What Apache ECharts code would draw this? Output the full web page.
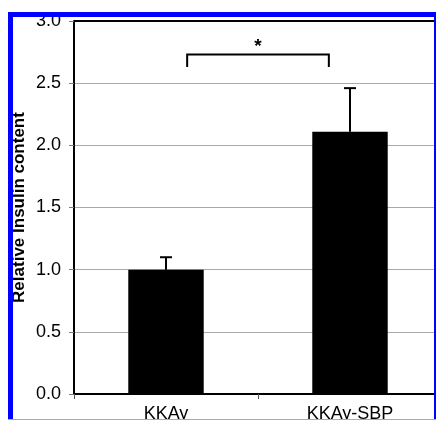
<!DOCTYPE html>
<html>
<head>
<meta charset="utf-8">
<script src="https://cdn.jsdelivr.net/npm/echarts@6/dist/echarts.min.js"></script>
<style>
html,body{margin:0;padding:0;background:#fff;}
#chart{width:436px;height:422px;}
</style>
</head>
<body>
<div id="chart"></div>
<script>
// ---- data ----
const categories = ['KKAy', 'KKAy-SBP'];
const means = [1.0, 2.11];
const errUpper = [1.10, 2.46];
const yTicks = { min: 0, max: 3, interval: 0.5 };
const yAxisTitle = 'Relative Insulin content';
// significance bracket: [fromCategory, toCategory, topValue, legBottomValue, label]
const bracket = [0, 1, 2.73, 2.63, '*'];

const chart = echarts.init(document.getElementById('chart'), null, { renderer: 'canvas' });

const FONT = 'Liberation Sans, Arial, sans-serif';

chart.setOption({
  animation: false,
  backgroundColor: '#fff',
  grid: { left: 74, width: 368, top: 21, height: 373, show: false,
          containLabel: false, outerBoundsMode: 'none' },
  xAxis: {
    type: 'category',
    data: categories,
    boundaryGap: true,
    axisLine: { show: true, lineStyle: { color: '#000', width: 2 } },
    axisTick: { show: true, alignWithLabel: false, length: 5, lineStyle: { color: '#555', width: 1 } },
    axisLabel: { color: '#000', fontFamily: FONT, fontSize: 18, margin: 11 },
    splitLine: { show: false }
  },
  yAxis: {
    type: 'value',
    min: yTicks.min, max: yTicks.max, interval: yTicks.interval,
    name: yAxisTitle,
    nameLocation: 'middle',
    nameGap: 46,
    nameMoveOverlap: false,
    nameTextStyle: { color: '#000', fontFamily: FONT, fontSize: 17, fontWeight: 'bold' },
    axisLine: { show: true, lineStyle: { color: '#000', width: 2 } },
    axisTick: { show: true, length: 5, lineStyle: { color: '#777', width: 1 } },
    axisLabel: { color: '#000', fontFamily: FONT, fontSize: 18, margin: 13,
      formatter: v => v.toFixed(1) },
    splitLine: { show: true, lineStyle: { color: '#aaa', width: 1 } }
  },
  series: [
    {
      type: 'bar',
      data: means,
      barWidth: '41%',
      itemStyle: { color: '#000' },
      z: 2
    },
    {
      type: 'custom',
      data: categories.map((c, i) => [i, means[i], errUpper[i]]),
      z: 3,
      renderItem: function (params, api) {
        const x = api.value(0);
        const p0 = api.coord([x, api.value(1)]);
        const p1 = api.coord([x, api.value(2)]);
        const cap = 6;
        return {
          type: 'group',
          children: [
            { type: 'line', shape: { x1: p0[0], y1: p0[1], x2: p1[0], y2: p1[1] },
              style: { stroke: '#000', lineWidth: 2 } },
            { type: 'line', shape: { x1: p1[0] - cap, y1: p1[1], x2: p1[0] + cap, y2: p1[1] },
              style: { stroke: '#000', lineWidth: 2 } }
          ]
        };
      }
    },
    {
      type: 'custom',
      data: [bracket],
      z: 3,
      renderItem: function (params, api) {
        const a = api.value(0), b = api.value(1);
        const top = api.value(2), bot = api.value(3);
        const bw = api.size([1, 0])[0];
        const inset = bw * 0.115;
        const pa = api.coord([a, top]);
        const pb = api.coord([b, top]);
        const pab = api.coord([a, bot]);
        const x1 = pa[0] + inset, x2 = pb[0] - inset;
        return {
          type: 'group',
          children: [
            { type: 'polyline',
              shape: { points: [[x1, pab[1]], [x1, pa[1]], [x2, pa[1]], [x2, pab[1]]] },
              style: { stroke: '#000', lineWidth: 2, fill: null } },
            { type: 'text',
              style: { text: bracket[4], x: (x1 + x2) / 2, y: pa[1] + 2,
                align: 'center', verticalAlign: 'bottom',
                font: 'bold 19px ' + FONT, fill: '#000' } }
          ]
        };
      }
    }
  ],
  graphic: [
    // top frame line of plot
    { type: 'line', shape: { x1: 74, y1: 21, x2: 436, y2: 21 }, style: { stroke: '#000', lineWidth: 2 }, z: 50 },
    // screenshot selection frame
    { type: 'rect', shape: { x: 0, y: 0, width: 436, height: 12 }, style: { fill: '#fff' }, z: 100 },
    { type: 'rect', shape: { x: 0, y: 0, width: 8, height: 422 }, style: { fill: '#fff' }, z: 100 },
    { type: 'rect', shape: { x: 8, y: 12, width: 428, height: 5 }, style: { fill: '#0000ff' }, z: 101 },
    { type: 'rect', shape: { x: 8, y: 12, width: 5, height: 408 }, style: { fill: '#0000ff' }, z: 101 },
    { type: 'rect', shape: { x: 434, y: 12, width: 2, height: 408 }, style: { fill: '#0000ff' }, z: 101 },
    { type: 'rect', shape: { x: 0, y: 420, width: 436, height: 2 }, style: { fill: '#fff' }, z: 100 },
    { type: 'rect', shape: { x: 8, y: 419, width: 428, height: 1 }, style: { fill: '#a0a0ff' }, z: 101 }
  ]
});
</script>
</body>
</html>
